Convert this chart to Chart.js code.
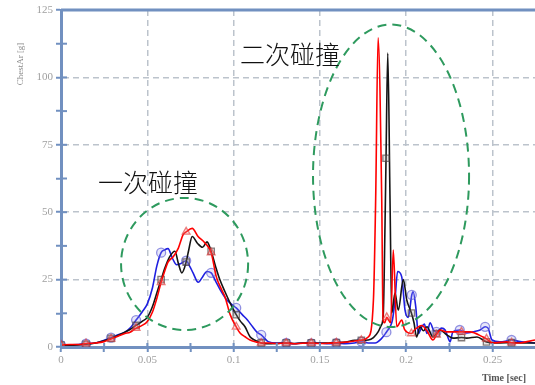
<!DOCTYPE html>
<html>
<head>
<meta charset="utf-8">
<script src="https://cdn.jsdelivr.net/npm/chart.js@4.4.0/dist/chart.umd.min.js"></script>
<style>
  html, body { margin: 0; padding: 0; background: #fff; }
  #wrap { width: 535px; height: 385px; position: relative; }
</style>
</head>
<body>
<div id="wrap"><canvas id="grafico"></canvas></div>
<script>
// tempo [s] e aceleração do peito [g] de cada ensaio
const tAzul = [0, 0.005, 0.01, 0.0145, 0.02, 0.025, 0.029, 0.033, 0.037, 0.04, 0.0435, 0.047, 0.05, 0.053, 0.0555, 0.058, 0.06, 0.062, 0.0645, 0.067, 0.0695, 0.0725, 0.0745, 0.0765, 0.0795, 0.082, 0.0845, 0.087, 0.0895, 0.092, 0.096, 0.0995, 0.1015, 0.105, 0.108, 0.111, 0.1135, 0.116, 0.12, 0.125, 0.1305, 0.135, 0.14, 0.145, 0.15, 0.155, 0.1595, 0.165, 0.17, 0.174, 0.178, 0.182, 0.1855, 0.1885, 0.1906, 0.192, 0.1935, 0.195, 0.1974, 0.1993, 0.2012, 0.2032, 0.204, 0.2055, 0.207, 0.209, 0.2105, 0.212, 0.2138, 0.216, 0.2175, 0.2205, 0.2225, 0.2245, 0.2254, 0.227, 0.231, 0.235, 0.2387, 0.2428, 0.2457, 0.2474, 0.2497, 0.2543, 0.258, 0.261, 0.266, 0.27, 0.2746];
const azul = [0.7, 0.8, 0.9, 1.2, 1.5, 2.5, 3.5, 4.5, 5.5, 7, 10, 13, 16, 22, 30, 35, 36, 36.5, 33, 30.5, 31, 32, 30, 27.5, 24, 26, 28, 27.5, 24.5, 21.5, 17.5, 15.5, 14.5, 12, 10, 7.5, 5.5, 4.5, 2, 1.5, 1.5, 1.2, 1.5, 1.3, 1.5, 1.2, 1.4, 1.2, 1.5, 2, 1.5, 1.5, 3, 5.5, 7.5, 10, 17.5, 28, 26, 13.7, 11, 19.3, 20.5, 15, 5, 7.5, 8.5, 5, 9, 6, 5.6, 7, 6.3, 3, 1.9, 5.6, 6.3, 5.2, 5.6, 6.3, 7.5, 7, 2.6, 1.9, 2.2, 2.6, 2, 1.8, 1.5];

const tPreto = [0, 0.005, 0.01, 0.0145, 0.02, 0.025, 0.029, 0.033, 0.037, 0.04, 0.0435, 0.047, 0.05, 0.053, 0.0555, 0.058, 0.06, 0.063, 0.066, 0.068, 0.07, 0.0725, 0.074, 0.076, 0.079, 0.082, 0.0846, 0.087, 0.0895, 0.092, 0.095, 0.098, 0.1015, 0.104, 0.1066, 0.1095, 0.1115, 0.1135, 0.116, 0.12, 0.125, 0.1305, 0.135, 0.14, 0.145, 0.15, 0.155, 0.1595, 0.165, 0.17, 0.174, 0.178, 0.181, 0.1838, 0.1855, 0.1867, 0.1877, 0.1883, 0.1893, 0.1906, 0.1916, 0.1935, 0.1954, 0.1983, 0.2003, 0.203, 0.2045, 0.206, 0.208, 0.21, 0.212, 0.2155, 0.2175, 0.2196, 0.2235, 0.227, 0.232, 0.235, 0.241, 0.2465, 0.2543, 0.261, 0.268, 0.2746];
const preto = [0.7, 0.7, 0.8, 1, 1.5, 2.3, 3.2, 4.3, 5.5, 6.5, 8, 9.5, 11, 15, 20, 25, 29, 33.5, 35.5, 31, 27.5, 31.5, 36, 41, 38.5, 37, 39, 35.5, 30, 25, 20.5, 16.3, 12, 9.5, 7.5, 3.8, 2.8, 2.2, 1.5, 1.2, 1.3, 1.5, 1.3, 1.5, 1.5, 1.4, 1.5, 1.6, 1.8, 2.5, 2.5, 2.6, 3.5, 5.7, 8, 12, 45, 70, 109, 55, 12.6, 20, 13.7, 25, 17.5, 12.6, 9, 3.7, 7.5, 6, 7.5, 3.7, 5, 6.3, 4.5, 3.3, 3.5, 3.3, 3.7, 1.9, 1.5, 1.6, 1.5, 1.5];

const tVermelho = [0, 0.005, 0.01, 0.0145, 0.02, 0.025, 0.029, 0.033, 0.037, 0.04, 0.0435, 0.047, 0.05, 0.053, 0.0555, 0.058, 0.06, 0.062, 0.065, 0.068, 0.0707, 0.0725, 0.076, 0.0794, 0.0834, 0.087, 0.09, 0.0925, 0.095, 0.098, 0.1015, 0.104, 0.1066, 0.1095, 0.1135, 0.116, 0.12, 0.125, 0.1305, 0.135, 0.14, 0.145, 0.15, 0.155, 0.1595, 0.165, 0.17, 0.174, 0.178, 0.181, 0.1823, 0.1837, 0.1858, 0.1866, 0.1875, 0.1887, 0.191, 0.1925, 0.1945, 0.1974, 0.199, 0.203, 0.205, 0.209, 0.212, 0.2155, 0.2175, 0.2196, 0.2236, 0.2294, 0.232, 0.237, 0.2445, 0.2465, 0.25, 0.254, 0.258, 0.261, 0.266, 0.27, 0.2746];
const vermelho = [0.8, 0.9, 0.9, 1.3, 1.5, 2, 3, 4, 5, 5.5, 7, 8, 9.5, 13, 18, 24, 28, 31.5, 33.5, 36.7, 41.6, 42.7, 44, 41, 38.6, 35, 26, 22, 18.6, 12, 7.5, 5, 3.8, 2.6, 1.8, 1.5, 1.5, 1.3, 1.5, 1.2, 1.4, 1.5, 1.3, 1.4, 1.6, 1.8, 2.2, 2.5, 3.7, 17.5, 55, 114.7, 55, 10, 9, 11, 9, 36, 7.5, 10, 6.5, 5, 6.5, 8, 6, 2.6, 4.5, 6.3, 5.6, 5.6, 5.6, 5.6, 3.7, 3, 1.5, 1.7, 1.9, 1.6, 1.5, 2, 2.6];

// instantes onde aparecem os marcadores
const tMarcas = [0, 0.0145, 0.029, 0.0435, 0.058, 0.0725, 0.087, 0.1015, 0.116, 0.1305, 0.145, 0.1595, 0.174, 0.1885, 0.203, 0.2175, 0.232, 0.2465, 0.261];

const rotulosX = ['0', '0.05', '0.1', '0.15', '0.2', '0.25'];
const rotulosY = ['0', '25', '50', '75', '100', '125'];

const corEixo = '#7190c0';
const corGrade = '#bcc3cc';
const corVerde = '#2e9a5e';

function indicesMarcas(tempos) {
    return tMarcas.map(m => {
        let melhor = 0;
        tempos.forEach((t, i) => {
            if (Math.abs(t - m) < Math.abs(tempos[melhor] - m)) melhor = i;
        });
        return melhor;
    });
}

function serie(nome, tempos, valores, cor, marcaCor, marcaFundo, estilo) {
    const idx = indicesMarcas(tempos);
    return {
        label: nome,
        data: tempos.map((t, i) => ({ x: t, y: valores[i] })),
        borderColor: cor,
        borderWidth: 1.6,
        pointStyle: estilo,
        pointRadius: ctx => idx.includes(ctx.dataIndex) ? 4.5 : 0,
        pointHoverRadius: 0,
        pointBorderColor: marcaCor,
        pointBackgroundColor: marcaFundo,
        pointBorderWidth: 1.3,
        cubicInterpolationMode: 'monotone',
        fill: false
    };
}

function ehMultiplo(v, passo) {
    return Math.abs(v / passo - Math.round(v / passo)) < 1e-6;
}

// elipses tracejadas, textos, títulos e marcas internas dos eixos
const extras = {
    id: 'extras',
    afterDatasetsDraw(chart) {
        const { ctx, scales: { x, y } } = chart;

        const elipses = [
            { t: 0.0716, g: 30.8, rt: 0.0368, rg: 24.5 },
            { t: 0.1912, g: 63.5, rt: 0.0452, rg: 56.1 }
        ];
        ctx.save();
        ctx.strokeStyle = corVerde;
        ctx.lineWidth = 2;
        ctx.setLineDash([9, 6]);
        elipses.forEach(e => {
            const cx = x.getPixelForValue(e.t);
            const cy = y.getPixelForValue(e.g);
            const rx = x.getPixelForValue(e.t + e.rt) - cx;
            const ry = cy - y.getPixelForValue(e.g + e.rg);
            ctx.beginPath();
            ctx.ellipse(cx, cy, rx, ry, 0, 0, Math.PI * 2);
            ctx.stroke();
        });
        ctx.restore();

        const textos = [
            { texto: '一次碰撞', t: 0.0504, g: 60.9 },
            { texto: '二次碰撞', t: 0.1327, g: 108.4 }
        ];
        ctx.save();
        ctx.fillStyle = '#111';
        ctx.font = '300 25px "Noto Sans CJK SC"';
        ctx.textAlign = 'center';
        ctx.textBaseline = 'middle';
        textos.forEach(a => {
            ctx.fillText(a.texto, x.getPixelForValue(a.t), y.getPixelForValue(a.g));
        });
        ctx.restore();
    },
    afterDraw(chart) {
        const { ctx, chartArea, scales: { x, y } } = chart;
        ctx.save();
        ctx.strokeStyle = corEixo;
        ctx.lineWidth = 2;
        y.ticks.forEach(tk => {
            const py = y.getPixelForValue(tk.value);
            ctx.beginPath();
            ctx.moveTo(chartArea.left, py);
            ctx.lineTo(chartArea.left + 6, py);
            ctx.stroke();
        });
        x.ticks.forEach(tk => {
            const px = x.getPixelForValue(tk.value);
            ctx.beginPath();
            ctx.moveTo(px, chartArea.bottom);
            ctx.lineTo(px, chartArea.bottom - 4);
            ctx.stroke();
        });
        ctx.lineWidth = 3;
        ctx.beginPath();
        ctx.moveTo(chartArea.left, chartArea.top);
        ctx.lineTo(chartArea.right, chartArea.top);
        ctx.stroke();

        ctx.fillStyle = '#555';
        ctx.font = 'bold 10px "Liberation Serif"';
        ctx.textAlign = 'center';
        ctx.textBaseline = 'middle';
        ctx.fillText('Time [sec]', 504, 378);

        ctx.fillStyle = '#888';
        ctx.font = '9px "Liberation Serif"';
        ctx.translate(21, 64);
        ctx.rotate(-Math.PI / 2);
        ctx.fillText('ChestAr [g]', 0, 0);
        ctx.restore();
    }
};

window.addEventListener("DOMContentLoaded", () => {
    const ctx = document.getElementById('grafico').getContext('2d');
    new Chart(ctx, {
        type: 'line',
        data: {
            datasets: [
                serie('vermelho', tVermelho, vermelho, '#ff0000', 'rgba(225,60,60,0.65)', 'rgba(240,150,150,0.25)', 'triangle'),
                serie('preto', tPreto, preto, '#151515', 'rgba(70,60,60,0.65)', 'rgba(160,150,150,0.25)', 'rect'),
                serie('azul', tAzul, azul, '#1f1fe0', 'rgba(90,90,210,0.65)', 'rgba(160,160,235,0.25)', 'circle')
            ]
        },
        options: {
            responsive: true,
            maintainAspectRatio: false,
            animation: false,
            layout: { autoPadding: false, padding: { top: 10, right: 0, left: 0, bottom: 0 } },
            plugins: {
                legend: { display: false },
                tooltip: { enabled: false }
            },
            scales: {
                x: {
                    type: 'linear',
                    min: 0,
                    max: 0.2746,
                    afterFit: s => { s.height = 38; s.paddingRight = 0; s.paddingLeft = 0; },
                    ticks: {
                        stepSize: 0.025,
                        includeBounds: false,
                        autoSkip: false,
                        maxRotation: 0,
                        padding: 2,
                        color: '#a0a0a0',
                        font: { family: 'Liberation Serif', size: 11 },
                        callback: v => ehMultiplo(v, 0.05) ? rotulosX[Math.round(v / 0.05)] : ''
                    },
                    grid: {
                        color: c => (c.tick && c.tick.value > 0.001 && ehMultiplo(c.tick.value, 0.05)) ? corGrade : 'rgba(0,0,0,0)',
                        lineWidth: 1.5,
                        tickColor: corEixo,
                        tickWidth: 2,
                        tickLength: 5
                    },
                    border: { color: corEixo, width: 3, dash: [6, 4] }
                },
                y: {
                    min: 0,
                    max: 125,
                    afterFit: s => { s.width = 61; },
                    ticks: {
                        stepSize: 12.5,
                        padding: 3,
                        color: '#a0a0a0',
                        font: { family: 'Liberation Serif', size: 11 },
                        callback: v => ehMultiplo(v, 25) ? rotulosY[Math.round(v / 25)] : ''
                    },
                    grid: {
                        color: c => (c.tick && c.tick.value > 0 && c.tick.value < 125 && ehMultiplo(c.tick.value, 25)) ? corGrade : 'rgba(0,0,0,0)',
                        lineWidth: 1.5,
                        tickColor: corEixo,
                        tickWidth: 2,
                        tickLength: 5
                    },
                    border: { color: corEixo, width: 3, dash: [6, 4] }
                }
            }
        },
        plugins: [extras]
    });
});
</script>
</body>
</html>
